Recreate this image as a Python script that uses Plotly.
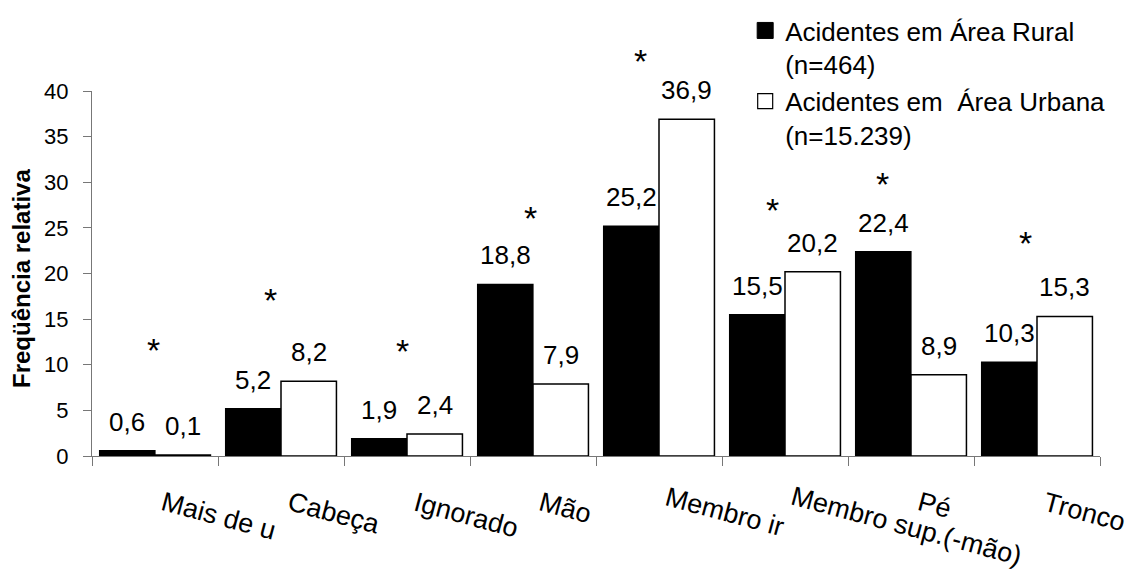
import plotly.graph_objects as go

categories = ["Mais de um", "Cabeça", "Ignorado", "Mão", "Membro inf.",
              "Membro sup.(-mão)", "Pé", "Tronco"]
tick_labels = ["Mais de u", "Cabeça", "Ignorado", "Mão", "Membro ir",
               "Membro sup.(-mão)", "Pé", "Tronco"]
rural = [0.6, 5.2, 1.9, 18.8, 25.2, 15.5, 22.4, 10.3]
urbana = [0.1, 8.2, 2.4, 7.9, 36.9, 20.2, 8.9, 15.3]
asterisk_y = [11.9, 17.4, 11.8, 26.4, 43.6, 27.3, 30.1, 23.7]
asterisk_dx = [-2, -11, -5, -3, -19, -13, -29, -12]
label_lift = [0, 0, 0, 0, 5, 6, 0, 0]
y_ticks = [0, 5, 10, 15, 20, 25, 30, 35, 40]
Y_MAX = 40

FONT = "Liberation Sans, Arial, sans-serif"
GREY = "#777777"

fig = go.Figure()
fig.add_trace(go.Bar(x=categories, y=rural, name="rural", showlegend=False,
                     marker=dict(color="black", line=dict(color="black", width=1.2))))
fig.add_trace(go.Bar(x=categories, y=urbana, name="urbana", showlegend=False,
                     marker=dict(color="white", line=dict(color="black", width=1.5))))

# legend proxies
fig.add_trace(go.Scatter(x=[None], y=[None], mode="markers",
                         name="Acidentes em Área Rural<br>(n=464)",
                         marker=dict(symbol="square", size=16, color="black",
                                     line=dict(color="black", width=1))))
fig.add_trace(go.Scatter(x=[None], y=[None], mode="markers",
                         name="Acidentes em\u00a0 Área Urbana<br>(n=15.239)",
                         marker=dict(symbol="square", size=15, color="white",
                                     line=dict(color="black", width=1.2))))

annotations = []
half = 27.7
for c, v in zip(categories, rural):
    annotations.append(dict(x=c, y=v, xref="x", yref="y", text=str(v).replace(".", ","),
                            showarrow=False, xshift=-half, yanchor="bottom", yshift=12,
                            font=dict(size=26, family=FONT, color="black")))
for c, v in zip(categories, urbana):
    annotations.append(dict(x=c, y=v, xref="x", yref="y", text=str(v).replace(".", ","),
                            showarrow=False, xshift=half, yanchor="bottom", yshift=12,
                            font=dict(size=26, family=FONT, color="black")))
for c, a, dx in zip(categories, asterisk_y, asterisk_dx):
    annotations.append(dict(x=c, y=a / Y_MAX, xref="x", yref="paper", text="*", showarrow=False,
                            xshift=dx, yshift=-3, yanchor="middle",
                            font=dict(size=34, family=FONT, color="black")))
for c, t, lift in zip(categories, tick_labels, label_lift):
    annotations.append(dict(x=c, y=0, xref="x", yref="y", text=t, showarrow=False,
                            textangle=15, xanchor="left", yanchor="top", yshift=-28 + lift,
                            xshift=1,
                            font=dict(size=27, family=FONT, color="black")))
annotations.append(dict(x=0, y=0.485, xref="paper", yref="paper", text="<b>Freqüência relativa</b>",
                        showarrow=False, textangle=-90, xanchor="center", yanchor="middle",
                        xshift=-70, font=dict(size=24, family=FONT, color="black")))

fig.update_layout(
    width=1134, height=573,
    margin=dict(l=92, r=34, t=91, b=117, autoexpand=False),
    paper_bgcolor="white", plot_bgcolor="white",
    barmode="group", bargap=0.12, bargroupgap=0,
    font=dict(family=FONT, color="black"),
    annotations=annotations,
    legend=dict(x=0.648, y=1.23, xanchor="left", yanchor="top", valign="top",
                font=dict(size=26, family=FONT, color="black"),
                bgcolor="rgba(0,0,0,0)", tracegroupgap=0, itemwidth=30),
    xaxis=dict(range=[-0.5, len(categories) - 0.5], autorange=False,
               showticklabels=False, ticks="outside", tickson="boundaries",
               ticklen=9, tickcolor=GREY, tickwidth=1, showline=True, linecolor=GREY,
               linewidth=1, showgrid=False, zeroline=False),
    yaxis=dict(range=[0, Y_MAX], autorange=False, tickvals=y_ticks, ticks="outside", ticklen=8,
               tickcolor=GREY, tickwidth=1, showline=True, linecolor=GREY, linewidth=1,
               showgrid=False, zeroline=False, ticklabelstandoff=10,
               tickfont=dict(size=22, family=FONT, color="black")),
)

fig.write_html("out.html")
